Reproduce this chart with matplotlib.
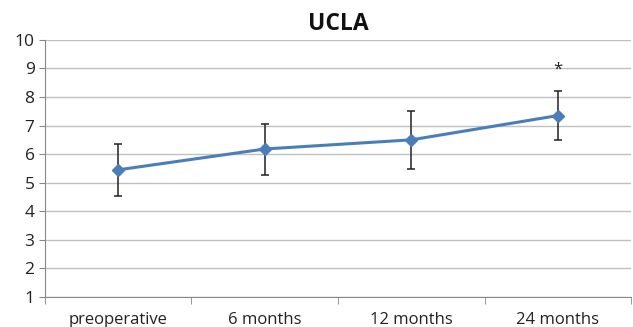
import matplotlib.pyplot as plt
import numpy as np

categories = ["preoperative", "6 months", "12 months", "24 months"]
means = [5.45, 6.18, 6.50, 7.35]
upper = [6.35, 7.05, 7.52, 8.22]
lower = [4.52, 5.28, 5.47, 6.48]
star_label = "*"

plt.rcParams['font.family'] = ['Open Sans', 'DejaVu Sans']

fig = plt.figure(figsize=(6.33, 3.27), dpi=100)
ax = fig.add_axes([0.071, 0.092, 0.926, 0.786])

x = np.arange(len(categories))
m = np.array(means)
yerr = [m - np.array(lower), np.array(upper) - m]

ax.errorbar(x, m, yerr=yerr, color='#4a7ebb', lw=2.2, marker='D', ms=6,
            ecolor='#222222', elinewidth=1.1, capsize=3, capthick=1.1, zorder=3)
ax.text(x[-1], 8.95, star_label, ha='center', va='center', fontsize=12, color='#222222')

ax.set_xlim(-0.5, len(categories) - 0.5)
ax.set_ylim(1, 10)
ax.set_yticks(range(1, 11))
ax.set_xticks(x)
ax.set_xticklabels(categories, fontsize=12, color='#222222')
ax.set_xticks(np.arange(-0.5, len(categories), 1), minor=True)
ax.tick_params(axis='x', which='major', length=0, pad=11)
ax.tick_params(axis='x', which='minor', length=5, color='#888888')
ax.tick_params(axis='y', length=4, color='#888888', labelsize=12.5, labelcolor='#222222')

ax.grid(axis='y', color='#c0c0c0', lw=1)
ax.set_axisbelow(True)
for s in ['top', 'right']:
    ax.spines[s].set_visible(False)
for s in ['left', 'bottom']:
    ax.spines[s].set_color('#888888')

ax.set_title("UCLA", fontsize=16.5, fontweight='bold', color='#111111', pad=7)

fig.savefig("out.png", dpi=100)
